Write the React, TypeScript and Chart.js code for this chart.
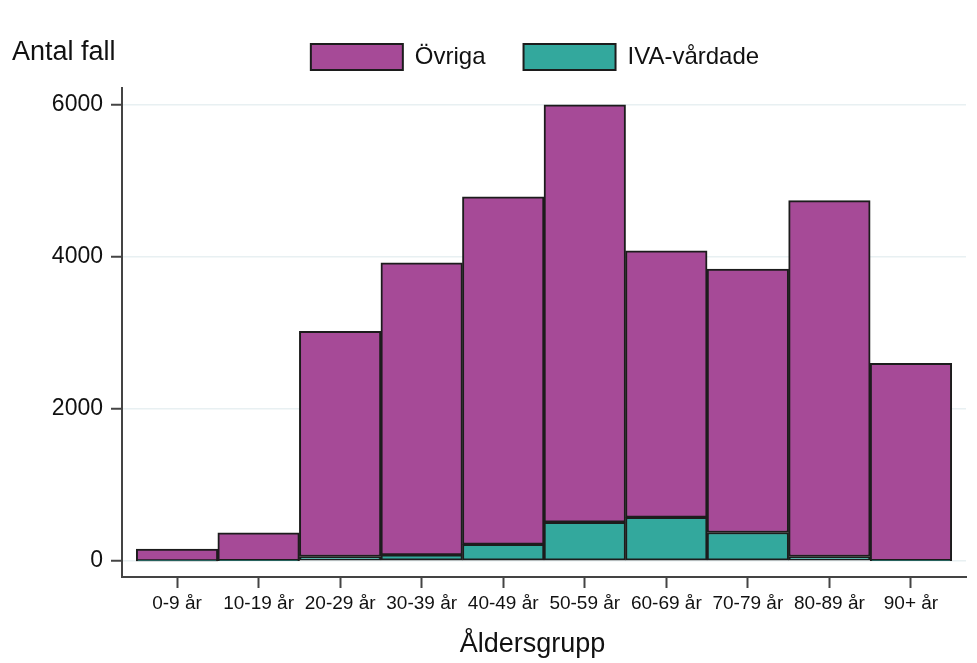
import React, { useEffect, useRef } from "react";
import { Chart, registerables } from "chart.js";

Chart.register(...registerables);

const categories = ["0-9 år", "10-19 år", "20-29 år", "30-39 år", "40-49 år", "50-59 år", "60-69 år", "70-79 år", "80-89 år", "90+ år"];
const ivaValues = [3, 4, 60, 80, 220, 510, 575, 375, 60, 5];
const ovrigaValues = [155, 366, 2960, 3840, 4570, 5490, 3505, 3465, 4680, 2595];
const yTickValues = [0, 2000, 4000, 6000];
const seriesNames = ["IVA-vårdade", "Övriga"];
const yAxisTitle = "Antal fall";
const xAxisTitle = "Åldersgrupp";

const FONT = '"Liberation Sans", Arial, sans-serif';
const W = 977;
const H = 663;
const LEGEND_SHIFT = -9;

const titlesPlugin = {
  id: "titlesPlugin",
  afterLayout(chart: any) {
    const lg = chart.legend;
    if (lg) {
      lg.left += LEGEND_SHIFT;
      lg.right += LEGEND_SHIFT;
    }
  },
  afterDraw(chart: any) {
    const ctx = chart.ctx;
    ctx.save();
    ctx.font = `27px ${FONT}`;
    ctx.fillStyle = "#111";
    ctx.textBaseline = "alphabetic";
    ctx.textAlign = "left";
    ctx.fillText(yAxisTitle, 12, 60);
    ctx.textAlign = "center";
    ctx.fillText(xAxisTitle, 532.5, 652);
    ctx.restore();
  },
};

export default function App() {
  const ref = useRef<HTMLCanvasElement | null>(null);

  useEffect(() => {
    if (!ref.current) return;
    Chart.defaults.font.family = FONT;
    const chart = new Chart(ref.current, {
      type: "bar",
      data: {
        datasets: [
          {
            label: seriesNames[0],
            data: ivaValues.map((v, i) => ({ x: i, y: v })),
            backgroundColor: "#33A89D",
            borderColor: "#1c1c1c",
            borderWidth: 2,
            borderSkipped: false,
            barPercentage: 1,
            categoryPercentage: 1,
          },
          {
            label: seriesNames[1],
            data: ovrigaValues.map((v, i) => ({ x: i, y: v })),
            backgroundColor: "#A64A97",
            borderColor: "#1c1c1c",
            borderWidth: 2,
            borderSkipped: false,
            barPercentage: 1,
            categoryPercentage: 1,
          },
        ],
      },
      options: {
        animation: false,
        responsive: false,
        maintainAspectRatio: false,
        layout: { padding: { top: 6, right: 11, left: 0, bottom: 0 } },
        plugins: {
          legend: {
            position: "top",
            fullSize: false,
            reverse: true,
            labels: {
              boxWidth: 92,
              boxHeight: 26,
              padding: 38,
              color: "#111",
              font: { family: FONT, size: 24 },
            },
          },
          subtitle: {
            display: true,
            text: "",
            weight: 500,
            position: "top",
            font: { size: 6, lineHeight: 1 },
            padding: { top: 1, bottom: 1 },
          },
          tooltip: { enabled: false },
        },
        scales: {
          x: {
            type: "linear",
            stacked: true,
            min: -0.675,
            max: 9.675,
            offset: false,
            afterBuildTicks: (s: any) => {
              s.ticks = categories.map((_, i) => ({ value: i }));
            },
            afterFit: (s: any) => {
              s.height = 86;
            },
            ticks: {
              autoSkip: false,
              maxRotation: 0,
              padding: 4,
              color: "#111",
              font: { family: FONT, size: 19 },
              callback: (v: any) => categories[v] ?? "",
            },
            grid: {
              offset: false,
              drawOnChartArea: false,
              drawTicks: true,
              tickLength: 11,
              tickColor: "#444",
              tickWidth: 2,
            },
            border: { color: "#444", width: 2 },
          },
          y: {
            stacked: true,
            min: -210,
            max: 6220,
            afterBuildTicks: (s: any) => {
              s.ticks = yTickValues.map((v) => ({ value: v }));
            },
            afterFit: (s: any) => {
              s.width = 122;
            },
            ticks: {
              padding: 8,
              color: "#111",
              font: { family: FONT, size: 23 },
              callback: (v: any) => String(v),
            },
            grid: {
              color: "#E8F0F2",
              lineWidth: 1.5,
              drawTicks: true,
              tickLength: 11,
              tickColor: "#444",
              tickWidth: 2,
            },
            border: { color: "#444", width: 2 },
          },
        },
      },
      plugins: [titlesPlugin],
    } as any);
    return () => chart.destroy();
  }, []);

  return (
    <div style={{ position: "absolute", left: 0, top: 0, width: W, height: H, background: "#fff" }}>
      <canvas ref={ref} width={W} height={H} style={{ display: "block", width: W, height: H }} />
    </div>
  );
}
